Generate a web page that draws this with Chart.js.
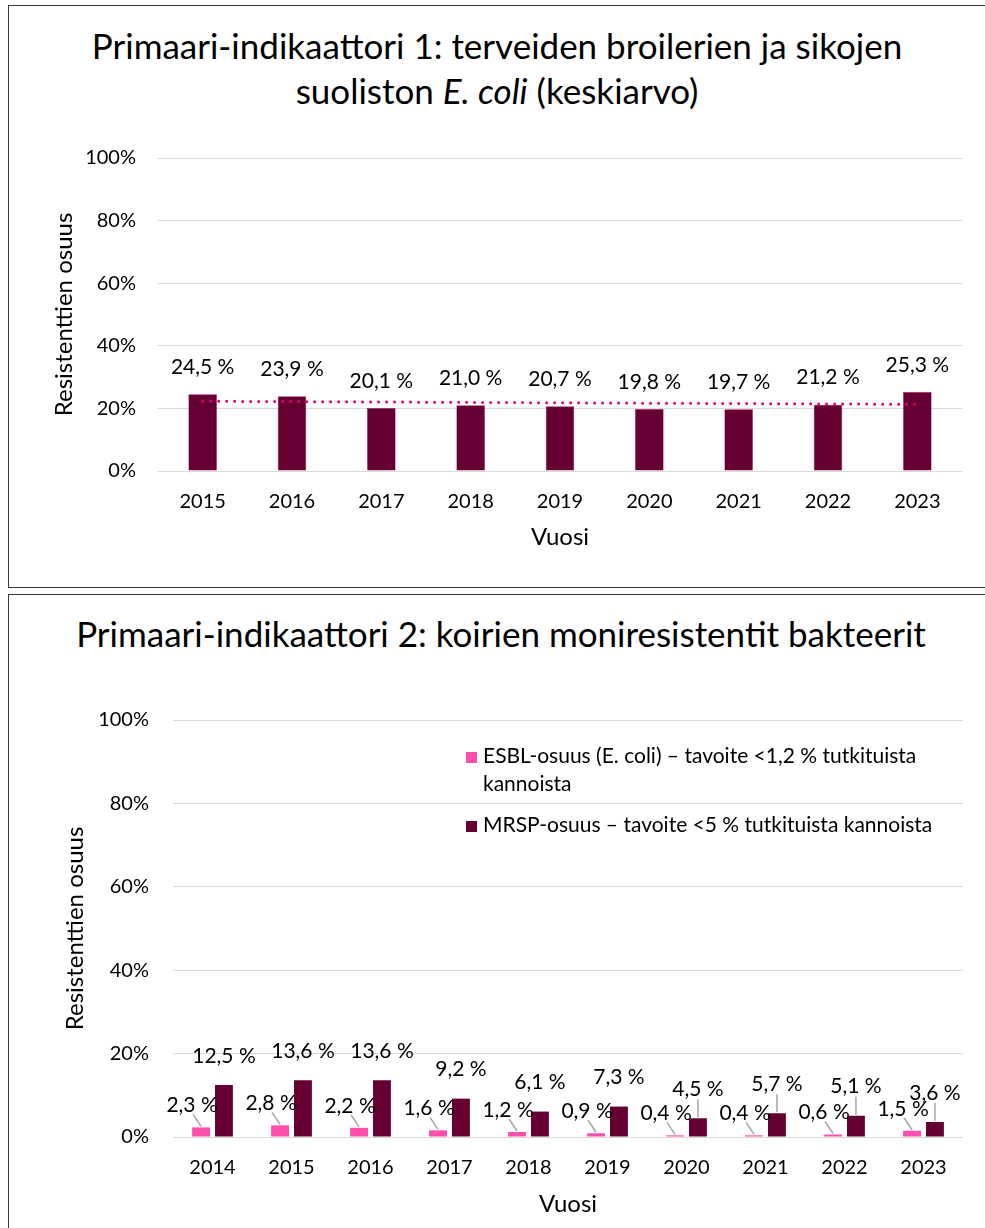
<!DOCTYPE html>
<html lang="fi">
<head>
<meta charset="utf-8">
<title>Primaari-indikaattorit</title>
<script src="https://cdn.jsdelivr.net/npm/chart.js@4.4.1/dist/chart.umd.min.js"></script>
<style>
  html, body { margin: 0; padding: 0; background: #fff; }
  body { width: 985px; height: 1228px; position: relative; overflow: hidden; font-family: Lato, "Open Sans", sans-serif; color: #000; }
  .box { position: absolute; left: 8px; width: 990px; border: 1px solid #3a3a3a; box-sizing: border-box; }
  #box1 { top: 5px; height: 583px; }
  #box2 { top: 594px; height: 660px; }
  .title { position: absolute; left: 9px; width: 976px; text-align: center; font-size: 35px; line-height: 45px; white-space: nowrap; }
  #title1 { top: 23px; }
  #title2 { top: 611px; left: 13px; }
  canvas { position: absolute; left: 9px; }
  #chart1 { top: 6px; }
  #chart2 { top: 595px; }
</style>
</head>
<body>
<div class="box" id="box1"></div>
<div class="box" id="box2"></div>
<div class="title" id="title1">Primaari-indikaattori 1: terveiden broilerien ja sikojen<br>suoliston <i>E. coli</i> (keskiarvo)</div>
<div class="title" id="title2">Primaari-indikaattori 2: koirien moniresistentit bakteerit</div>
<canvas id="chart1" width="976" height="581"></canvas>
<canvas id="chart2" width="976" height="633"></canvas>
<script>
// ===============================
// DATA
// ===============================
const years1 = ["2015", "2016", "2017", "2018", "2019", "2020", "2021", "2022", "2023"];
const ecoliValues = [24.5, 23.9, 20.1, 21.0, 20.7, 19.8, 19.7, 21.2, 25.3];
// dotted trend line at its two ends
const trendValues = [22.3, null, null, null, null, null, null, null, 21.3];

const years2 = ["2014", "2015", "2016", "2017", "2018", "2019", "2020", "2021", "2022", "2023"];
const esblValues = [2.3, 2.8, 2.2, 1.6, 1.2, 0.9, 0.4, 0.4, 0.6, 1.5];
const mrspValues = [12.5, 13.6, 13.6, 9.2, 6.1, 7.3, 4.5, 5.7, 5.1, 3.6];

const yTicks = [0, 20, 40, 60, 80, 100];
const esblLabel = ["ESBL-osuus (E. coli) – tavoite <1,2 % tutkituista", "kannoista"];
const mrspLabel = ["MRSP-osuus – tavoite <5 % tutkituista kannoista"];

// ===============================
// COMMON
// ===============================
const FONT = "Lato, 'Open Sans', sans-serif";
const MAROON = "#660033";
const PINK = "#ff4fae";
const GRID = "#d9d9d9";

Chart.defaults.font.family = FONT;
Chart.defaults.color = "#000";

function pct(v) {
  return v.toFixed(1).replace(".", ",") + " %";
}

function yScale(width, pad, titleSize) {
  return {
    min: 0,
    max: 100,
    afterBuildTicks: s => { s.ticks = yTicks.map(v => ({ value: v })); },
    afterFit: s => { s.width = width; },
    grid: { color: GRID, lineWidth: 1, drawTicks: false },
    border: { display: false },
    ticks: { padding: pad, font: { size: 20 }, callback: v => v + "%" },
    title: { display: true, text: "Resistenttien osuus", font: { size: titleSize }, padding: 0 }
  };
}

function xScale(height, titlePad, titleSize) {
  return {
    afterFit: s => { s.height = height; },
    grid: { display: false, drawTicks: false },
    border: { display: false },
    ticks: { padding: 19, font: { size: 20 }, maxRotation: 0, autoSkip: false },
    title: { display: true, text: "Vuosi", font: { size: titleSize }, padding: { top: 0, bottom: titlePad } }
  };
}

// ===============================
// CHART 1
// ===============================
const labels1 = {
  id: "labels1",
  afterDatasetsDraw(chart) {
    const ctx = chart.ctx;
    const meta = chart.getDatasetMeta(1);
    ctx.save();
    ctx.font = "21px " + FONT;
    ctx.fillStyle = "#000";
    ctx.textAlign = "center";
    ctx.textBaseline = "middle";
    meta.data.forEach((bar, i) => {
      ctx.fillText(pct(ecoliValues[i]), bar.x, bar.y - 27);
    });
    ctx.restore();
  }
};

new Chart(document.getElementById("chart1"), {
  data: {
    labels: years1,
    datasets: [
      {
        type: "line",
        label: "Trendi",
        data: trendValues,
        spanGaps: true,
        borderColor: "#e0007a",
        borderWidth: 3,
        borderDash: [0, 8],
        borderCapStyle: "round",
        pointRadius: 0,
        order: 0
      },
      {
        type: "bar",
        label: "Keskiarvo",
        data: ecoliValues,
        backgroundColor: MAROON,
        borderColor: "#b0125e",
        borderWidth: 0.6,
        categoryPercentage: 1,
        barPercentage: 0.32,
        order: 1
      }
    ]
  },
  options: {
    responsive: false,
    animation: false,
    layout: { padding: { top: 152, right: 23, bottom: 31, left: 41 } },
    plugins: { legend: { display: false }, tooltip: { enabled: false } },
    scales: {
      x: xScale(85, 4, 24),
      y: yScale(108, 22, 24)
    }
  },
  plugins: [labels1]
});

// ===============================
// CHART 2
// ===============================
const labels2 = {
  id: "labels2",
  afterDatasetsDraw(chart) {
    const ctx = chart.ctx;
    const esbl = chart.getDatasetMeta(0);
    const mrsp = chart.getDatasetMeta(1);
    ctx.save();
    ctx.font = "21px " + FONT;
    ctx.textAlign = "center";
    ctx.textBaseline = "middle";
    ctx.strokeStyle = "#a6a6a6";
    ctx.lineWidth = 1.5;

    esbl.data.forEach((bar, i) => {
      const lx = bar.x - 9;
      const ly = bar.y - 22;
      ctx.beginPath();
      ctx.moveTo(lx + 1, ly + 9);
      ctx.lineTo(bar.x, bar.y - 1);
      ctx.stroke();
      ctx.fillStyle = "#000";
      ctx.fillText(pct(esblValues[i]), lx, ly);
    });

    mrsp.data.forEach((bar, i) => {
      const v = mrspValues[i];
      const ly = bar.y - 29;
      if (v < 6) {
        ctx.beginPath();
        ctx.moveTo(bar.x, ly + 10);
        ctx.lineTo(bar.x, bar.y - 1);
        ctx.stroke();
      }
      ctx.fillStyle = "#000";
      ctx.fillText(pct(v), bar.x, ly);
    });
    ctx.restore();
  }
};

const legend2 = {
  id: "legend2",
  afterDraw(chart) {
    const ctx = chart.ctx;
    const area = chart.chartArea;
    const x = area.left + 293;
    const items = [
      { color: chart.data.datasets[0].backgroundColor, lines: esblLabel, mid: area.top + 36 },
      { color: chart.data.datasets[1].backgroundColor, lines: mrspLabel, mid: area.top + 105 }
    ];
    ctx.save();
    ctx.font = "21px " + FONT;
    ctx.textAlign = "left";
    ctx.textBaseline = "middle";
    items.forEach(it => {
      ctx.fillStyle = it.color;
      ctx.fillRect(x, it.mid - 4, 11, 11);
      ctx.fillStyle = "#000";
      it.lines.forEach((t, k) => {
        ctx.fillText(t, x + 17, it.mid + k * 28);
      });
    });
    ctx.restore();
  }
};

new Chart(document.getElementById("chart2"), {
  type: "bar",
  data: {
    labels: years2,
    datasets: [
      {
        label: esblLabel.join(" "),
        data: esblValues,
        backgroundColor: PINK,
        categoryPercentage: 0.58,
        barPercentage: 0.78
      },
      {
        label: mrspLabel.join(" "),
        data: mrspValues,
        backgroundColor: MAROON,
        categoryPercentage: 0.58,
        barPercentage: 0.78
      }
    ]
  },
  options: {
    responsive: false,
    animation: false,
    layout: { padding: { top: 125, right: 22, bottom: 7, left: 52 } },
    plugins: { legend: { display: false }, tooltip: { enabled: false } },
    scales: {
      x: xScale(84, 2, 24),
      y: yScale(112, 24, 24)
    }
  },
  plugins: [labels2, legend2]
});
</script>
</body>
</html>
